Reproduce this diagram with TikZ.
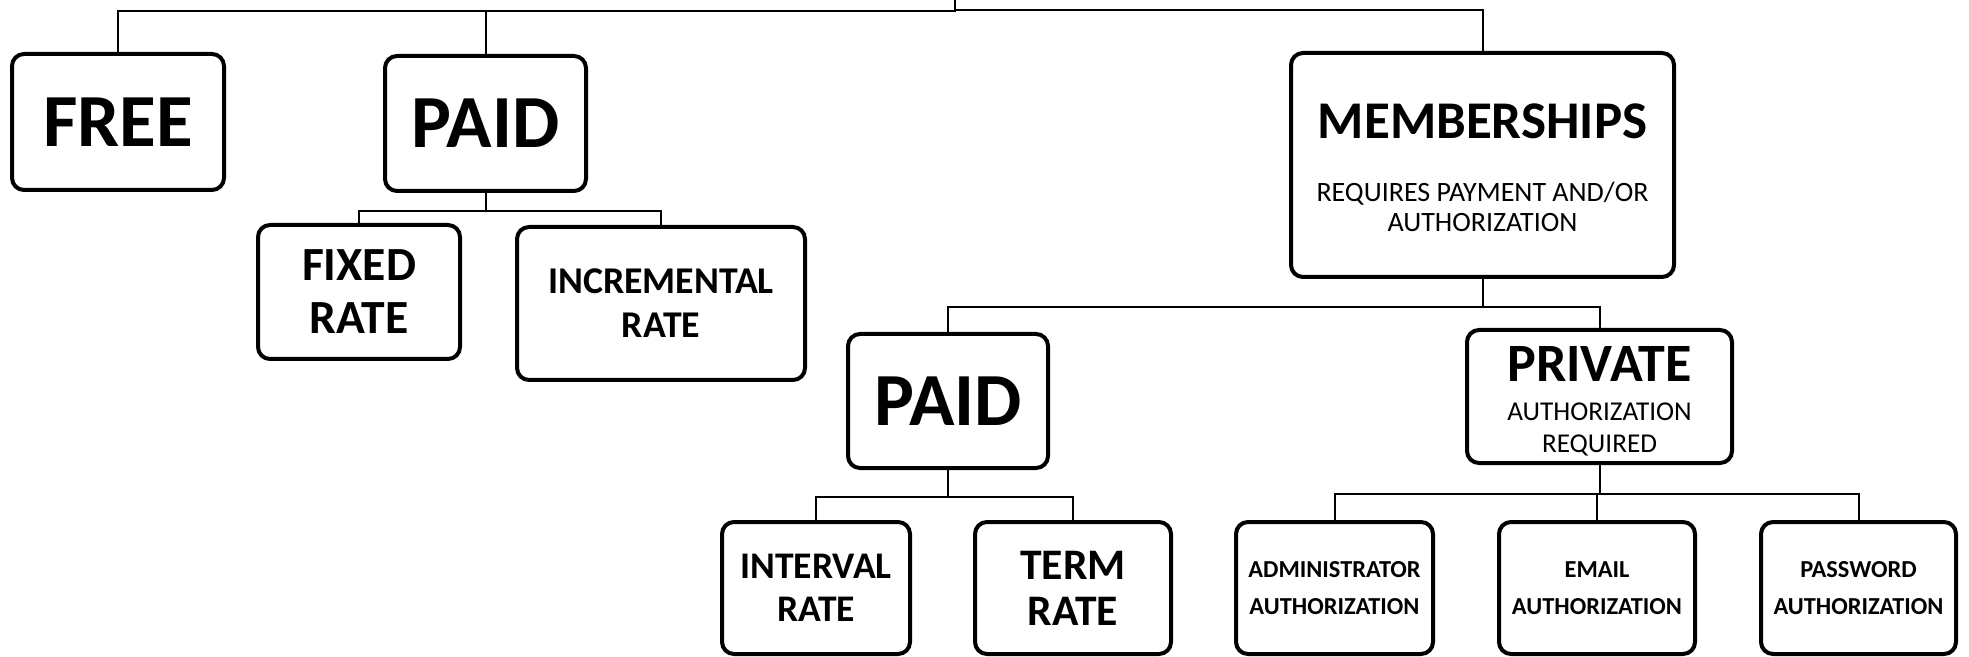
\documentclass[tikz,border=0pt]{standalone}
\usepackage{fontspec}
\setmainfont{Carlito}
\tikzset{
    box/.style={draw, line width=2pt, rounded corners=6pt, align=center, inner sep=0pt},
    conn/.style={line width=1pt},
    big/.style={font=\fontsize{37.5}{42}\selectfont\bfseries},
    rate/.style={font=\fontsize{#1}{23}\selectfont\bfseries},
    auth/.style={box, minimum width=98pt, minimum height=66pt, font=\fontsize{12.2}{18.5}\selectfont\bfseries},
}

\begin{document}
\begin{tikzpicture}[x=0.5pt, y=-0.5pt]
\useasboundingbox (0,0) rectangle (1969,657);
\coordinate (root) at (955,0);

% first level
\node[box, big, minimum width=106pt, minimum height=68pt] (free) at (118,122) {FREE};
\node[box, big, minimum width=100.5pt, minimum height=67.5pt] (paidA) at (485.5,123.5) {PAID};
\node[box, minimum width=191.5pt, minimum height=112pt, font=\fontsize{14}{15}\selectfont] (memb) at (1482.5,165)
    {{\fontsize{26.5}{30}\selectfont\bfseries\rule{0pt}{20pt}MEMBERSHIPS}\\[16.5pt]REQUIRES PAYMENT AND/OR\\AUTHORIZATION};

\node[box, minimum width=101pt, minimum height=67pt, font=\fontsize{23.8}{26.5}\selectfont\bfseries] (fixed) at (359,292) {FIXED\\RATE};
\node[box, minimum width=144pt, minimum height=76.5pt, font=\fontsize{18.9}{22}\selectfont\bfseries] (incr) at (661,303.5) {INCREMENTAL\\RATE};

\node[box, big, minimum width=100pt, minimum height=67pt] (paidB) at (948,401) {PAID};
\node[box, minimum width=132.5pt, minimum height=66.5pt, font=\fontsize{13.6}{16}\selectfont] (priv) at (1599.5,396.5)
    {{\fontsize{27}{30}\selectfont\bfseries\rule{0pt}{22pt}PRIVATE}\\[3.5pt]AUTHORIZATION\\REQUIRED};

\node[box, minimum width=94pt, minimum height=66pt, font=\fontsize{18.8}{21.5}\selectfont\bfseries] (interval) at (816,588) {INTERVAL\\RATE};
\node[box, minimum width=98pt, minimum height=66pt, rate=21.8] (term) at (1073,588) {TERM\\RATE};

\node[auth, minimum width=98.5pt] (admin) at (1334.5,588) {ADMINISTRATOR\\AUTHORIZATION};
\node[auth] (email) at (1597,588) {EMAIL\\AUTHORIZATION};
\node[auth, minimum width=97.5pt] (pass) at (1858.5,588) {PASSWORD\\AUTHORIZATION};

\draw[conn] (root) -- ++(0,11) -| (free.north);
\draw[conn] (root) -- ++(0,11) -| (paidA.north);
\draw[conn] (root) -- ++(0,10) -| (memb.north);

\draw[conn] (paidA.south) -- ++(0,18) -| (fixed.north);
\draw[conn] (paidA.south) -- ++(0,18) -| (incr.north);

\draw[conn] (memb.south) -- ++(0,28) -| (paidB.north);
\draw[conn] (memb.south) -- ++(0,28) -| (priv.north);

\draw[conn] (paidB.south) -- ++(0,27) -| (interval.north);
\draw[conn] (paidB.south) -- ++(0,27) -| (term.north);

\draw[conn] (priv.south) -- ++(0,29) -| (admin.north);
\draw[conn] (priv.south) -- ++(0,29) -| (email.north);
\draw[conn] (priv.south) -- ++(0,29) -| (pass.north);
\end{tikzpicture}
\end{document}
